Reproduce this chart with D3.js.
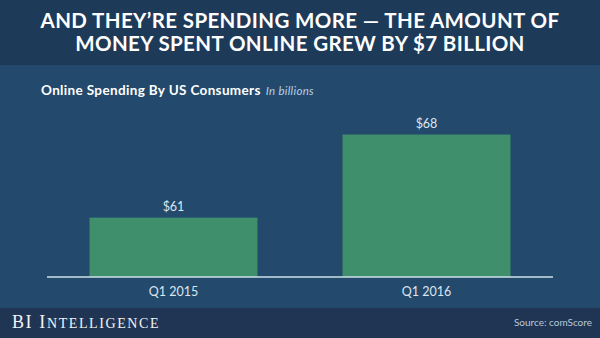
<!DOCTYPE html>
<html>
<head>
<meta charset="utf-8">
<script src="https://cdn.jsdelivr.net/npm/d3@7"></script>
<style>
  html, body { margin: 0; padding: 0; background: #23496c; }
  svg { display: block; }
</style>
</head>
<body>
<svg id="chart" width="600" height="338"></svg>
<script>
// Quarterly online spending by US consumers, in billions of dollars
const categories = ["Q1 2015", "Q1 2016"];
const spending = [61, 68];
const valueLabels = ["$61", "$68"];
const titleLines = [
  "AND THEY\u2019RE SPENDING MORE \u2014 THE AMOUNT OF",
  "MONEY SPENT ONLINE GREW BY $7 BILLION"
];

const W = 600, H = 338;
const svg = d3.select("#chart");
const sans = "Lato, 'Open Sans', sans-serif";

// Background bands: header, plot area, footer
svg.append("rect").attr("x", 0).attr("y", 0).attr("width", W).attr("height", H).attr("fill", "#23496c");
svg.append("rect").attr("x", 0).attr("y", 0).attr("width", W).attr("height", 65).attr("fill", "#1e3a59");
svg.append("rect").attr("x", 0).attr("y", 308).attr("width", W).attr("height", 30).attr("fill", "#1f3553");

// Title, two centred lines; letter spacing widens the first line to 519px
const title = svg.append("g");
titleLines.forEach((t, i) => {
  title.append("text")
    .attr("x", W / 2)
    .attr("y", 28 + i * 23)
    .attr("text-anchor", "middle")
    .attr("fill", "#ffffff")
    .style("font-family", sans)
    .style("font-weight", 700)
    .style("font-size", "20.5px")
    .text(t);
});
const firstLine = title.select("text");
const w0 = firstLine.node().getComputedTextLength();
const nChars = titleLines[0].length;
const ls = (519 - w0) / nChars;
title.selectAll("text").style("letter-spacing", ls.toFixed(2) + "px");

// Chart subtitle
const sub = svg.append("text")
  .attr("x", 41)
  .attr("y", 95)
  .style("font-family", sans);
sub.append("tspan")
  .attr("fill", "#ffffff")
  .style("font-weight", 700)
  .style("font-size", "13.5px")
  .style("letter-spacing", "0.35px")
  .text("Online Spending By US Consumers");
sub.append("tspan")
  .attr("fill", "#b9cfe2")
  .attr("dx", 5)
  .style("font-style", "italic")
  .style("font-size", "11.5px")
  .style("letter-spacing", "0.3px")
  .text("In billions");

// Scales
const x = d3.scaleBand()
  .domain(categories)
  .range([47, 553])
  .paddingInner(0.336)
  .paddingOuter(0.168);

const y = d3.scaleLinear()
  .domain([56, 68])
  .range([277, 134.5]);

// Bars
svg.append("g").selectAll("rect")
  .data(spending)
  .join("rect")
  .attr("x", (d, i) => x(categories[i]))
  .attr("y", d => y(d))
  .attr("width", x.bandwidth())
  .attr("height", d => y(56) - y(d))
  .attr("fill", "#3f8e6c");

// Value labels above the bars
svg.append("g").selectAll("text")
  .data(spending)
  .join("text")
  .attr("x", (d, i) => x(categories[i]) + x.bandwidth() / 2)
  .attr("y", d => y(d) - 7)
  .attr("text-anchor", "middle")
  .attr("fill", "#dde7ef")
  .style("font-family", sans)
  .style("font-size", "12.5px")
  .text((d, i) => valueLabels[i]);

// Category axis along the baseline
const xAxis = svg.append("g")
  .attr("transform", `translate(0,${y(56)})`)
  .call(d3.axisBottom(x).tickSize(0).tickPadding(10));
xAxis.select(".domain")
  .attr("d", "M47,0H553")
  .attr("stroke", "#cfe2e8")
  .attr("stroke-width", 1.5);
xAxis.selectAll("text")
  .attr("fill", "#dce6ee")
  .style("font-family", sans)
  .style("font-size", "12.5px");

// Footer: brand and source
const brand = svg.append("text")
  .attr("x", 12)
  .attr("y", 328)
  .attr("fill", "#f2f4f6")
  .style("font-family", "'Liberation Serif', 'DejaVu Serif', serif")
  .style("font-size", "18px")
  .style("letter-spacing", "1.6px");
brand.append("tspan").text("BI ");
brand.append("tspan").text("I");
brand.append("tspan").style("font-size", "14px").text("NTELLIGENCE");

svg.append("text")
  .attr("x", 592)
  .attr("y", 326)
  .attr("text-anchor", "end")
  .attr("fill", "#b8c9d8")
  .style("font-family", sans)
  .style("font-size", "10px")
  .text("Source: comScore");
</script>
</body>
</html>
